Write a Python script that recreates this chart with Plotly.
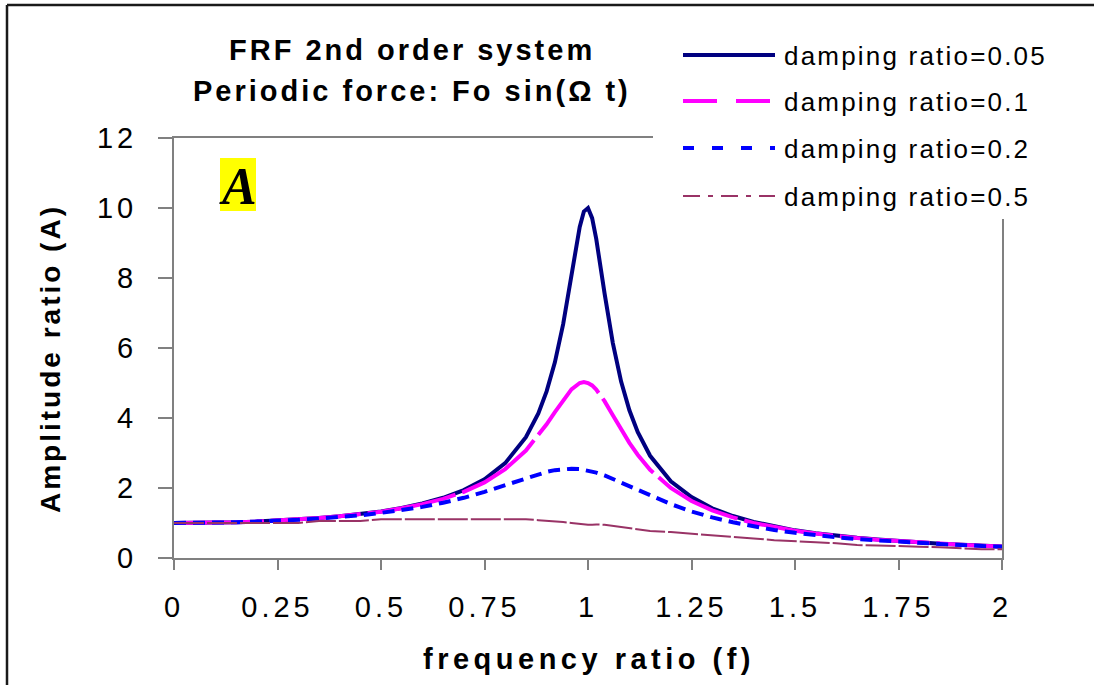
import plotly.graph_objects as go

# ---- data ----
freq_ratio = [0, 0.05, 0.1, 0.15, 0.2, 0.25, 0.3, 0.35, 0.4, 0.45, 0.5, 0.55, 0.6, 0.65,
              0.7, 0.75, 0.8, 0.85, 0.88, 0.9, 0.92, 0.94, 0.96, 0.98, 0.99, 1.0, 1.01,
              1.02, 1.04, 1.06, 1.08, 1.1, 1.12, 1.15, 1.2, 1.25, 1.3, 1.35, 1.4, 1.45,
              1.5, 1.55, 1.6, 1.65, 1.7, 1.75, 1.8, 1.85, 1.9, 1.95, 2.0]

amp_005 = [1.00, 1.00, 1.01, 1.02, 1.04, 1.07, 1.10, 1.14, 1.19, 1.25, 1.33, 1.43, 1.56, 1.72,
           1.94, 2.25, 2.71, 3.45, 4.13, 4.76, 5.59, 6.68, 8.07, 9.46, 9.90, 10.0, 9.71,
           9.11, 7.56, 6.14, 5.04, 4.22, 3.60, 2.92, 2.19, 1.74, 1.42, 1.20, 1.03, 0.90,
           0.79, 0.71, 0.64, 0.58, 0.53, 0.48, 0.45, 0.41, 0.38, 0.36, 0.33]

amp_01 = [1.00, 1.00, 1.01, 1.02, 1.04, 1.07, 1.10, 1.14, 1.19, 1.25, 1.32, 1.42, 1.54, 1.69,
          1.89, 2.16, 2.54, 3.07, 3.50, 3.82, 4.17, 4.52, 4.82, 5.00, 5.03, 5.00, 4.93,
          4.81, 4.48, 4.08, 3.67, 3.29, 2.95, 2.52, 2.00, 1.63, 1.36, 1.16, 1.00, 0.88,
          0.78, 0.70, 0.63, 0.57, 0.52, 0.48, 0.44, 0.41, 0.38, 0.35, 0.33]

amp_02 = [1.00, 1.00, 1.01, 1.02, 1.04, 1.06, 1.09, 1.13, 1.17, 1.22, 1.29, 1.37, 1.46, 1.58,
          1.72, 1.89, 2.08, 2.28, 2.39, 2.46, 2.51, 2.54, 2.55, 2.54, 2.52, 2.50, 2.47,
          2.44, 2.36, 2.26, 2.16, 2.05, 1.94, 1.78, 1.54, 1.33, 1.16, 1.02, 0.90, 0.80,
          0.72, 0.65, 0.59, 0.54, 0.50, 0.46, 0.43, 0.40, 0.37, 0.34, 0.32]

amp_05 = [1.00, 1.00, 1.00, 1.00, 1.00, 1.00, 1.00, 1.06, 1.06, 1.06, 1.11, 1.11, 1.11, 1.11,
          1.11, 1.11, 1.11, 1.11, 1.08, 1.07, 1.06, 1.03, 1.00, 0.97, 0.96, 0.95, 0.95,
          0.96, 0.95, 0.92, 0.88, 0.85, 0.81, 0.77, 0.74, 0.70, 0.66, 0.61, 0.56, 0.51,
          0.47, 0.45, 0.42, 0.37, 0.36, 0.33, 0.32, 0.31, 0.28, 0.25, 0.25]

series_names = ["damping ratio=0.05", "damping ratio=0.1", "damping ratio=0.2", "damping ratio=0.5"]

x_tick_vals = [0, 0.25, 0.5, 0.75, 1, 1.25, 1.5, 1.75, 2]
x_tick_text = ["0", "0.25", "0.5", "0.75", "1", "1.25", "1.5", "1.75", "2"]
y_tick_vals = [0, 2, 4, 6, 8, 10, 12]
y_tick_text = ["0", "2", "4", "6", "8", "10", "12"]

title_lines = ["FRF 2nd order system", "Periodic force: Fo sin(\u03a9 t)"]
x_title = "frequency ratio (f)"
y_title = "Amplitude ratio (A)"

# ---- styling ----
W, H = 1094, 685
L, R, T, B = 174, 92, 138, 127
PW, PH = W - L - R, H - T - B


def px(xp):
    return (xp - L) / PW


def py(yp):
    return (H - B - yp) / PH


def spaced(t, s):
    return f'<span style="letter-spacing:{s}px">{t}</span>'


styles = [
    dict(color="#000080", width=4, dash="solid"),
    dict(color="#FF00FF", width=4, dash="90px,7px"),
    dict(color="#0000FF", width=4, dash="12px,7px"),
    dict(color="#993366", width=2, dash="30px,3px"),
]
legend_dash = ["solid", "34px,19px", "11px,18px", "17px,8px,5px,8px"]

fig = go.Figure()
for name, ys, st in zip(series_names, [amp_005, amp_01, amp_02, amp_05], styles):
    fig.add_trace(go.Scatter(x=freq_ratio, y=ys, mode="lines", name=name,
                             line=st, showlegend=False, hoverinfo="skip"))

axis_common = dict(showgrid=False, zeroline=False, showline=True, linecolor="#808080",
                   linewidth=2, mirror=True, ticks="outside", tickcolor="#808080",
                   tickwidth=2,
                   tickfont=dict(family="Liberation Sans, Arial", size=29, color="black"))

fig.update_layout(
    width=W, height=H,
    margin=dict(l=L, r=R, t=T, b=B),
    paper_bgcolor="white", plot_bgcolor="white",
    xaxis=dict(range=[0, 2], tickvals=x_tick_vals,
               ticktext=[spaced(t, 4) for t in x_tick_text],
               ticklen=10, ticklabelstandoff=12, **axis_common),
    yaxis=dict(range=[0, 12], tickvals=y_tick_vals,
               ticktext=[spaced(t, 4) for t in y_tick_text],
               ticklen=14, ticklabelstandoff=15, **axis_common),
)

shapes = []
# legend background (covers plot frame like the original)
shapes.append(dict(type="rect", xref="paper", yref="paper", x0=px(653), x1=px(1094),
                   y0=py(219), y1=py(8), fillcolor="white", line=dict(width=0),
                   layer="above"))
# legend samples
leg_y = [55, 101, 148, 196]
for st, d, yy in zip(styles, legend_dash, leg_y):
    shapes.append(dict(type="line", xref="paper", yref="paper", x0=px(683), x1=px(775),
                       y0=py(yy), y1=py(yy), layer="above",
                       line=dict(color=st["color"], width=st["width"], dash=d)))
# yellow box behind "A"
shapes.append(dict(type="rect", xref="paper", yref="paper", x0=px(220), x1=px(256),
                   y0=py(211), y1=py(158), fillcolor="#FFFF00", line=dict(width=0),
                   layer="above"))
# outer frame (top and left edges visible)
shapes.append(dict(type="line", xref="paper", yref="paper", x0=px(7), x1=px(1094),
                   y0=py(5), y1=py(5), line=dict(color="#1a1a1a", width=2.5)))
shapes.append(dict(type="line", xref="paper", yref="paper", x0=px(7), x1=px(7),
                   y0=py(5), y1=py(685), line=dict(color="#1a1a1a", width=2.5)))
fig.update_layout(shapes=shapes)

ann = []
title_font = dict(family="Liberation Sans, Arial", size=29, color="black")
for line, yy in zip(title_lines, [50, 91]):
    ann.append(dict(xref="paper", yref="paper", x=px(412), y=py(yy), showarrow=False,
                    xanchor="center", yanchor="middle", font=title_font,
                    text=f"<b>{spaced(line, 3)}</b>"))
ann.append(dict(xref="paper", yref="paper", x=px(589), y=py(659), showarrow=False,
                xanchor="center", yanchor="middle",
                font=dict(family="Liberation Sans, Arial", size=29, color="black"),
                text=f"<b>{spaced(x_title, 4.5)}</b>"))
ann.append(dict(xref="paper", yref="paper", x=px(50), y=py(359), showarrow=False,
                xanchor="center", yanchor="middle", textangle=-90,
                font=dict(family="Liberation Sans, Arial", size=28, color="black"),
                text=f"<b>{spaced(y_title, 3)}</b>"))
for name, yy in zip(series_names, leg_y):
    ann.append(dict(xref="paper", yref="paper", x=px(782), y=py(yy + 1), showarrow=False,
                    xanchor="left", yanchor="middle",
                    font=dict(family="Liberation Sans, Arial", size=26, color="black"),
                    text=spaced(name, 2.2)))
ann.append(dict(xref="paper", yref="paper", x=px(238), y=py(186), showarrow=False,
                xanchor="center", yanchor="middle",
                font=dict(family="Liberation Serif, Times New Roman", size=52, color="black"),
                text="<b><i>A</i></b>"))
fig.update_layout(annotations=ann)

fig.write_html("out.html")
